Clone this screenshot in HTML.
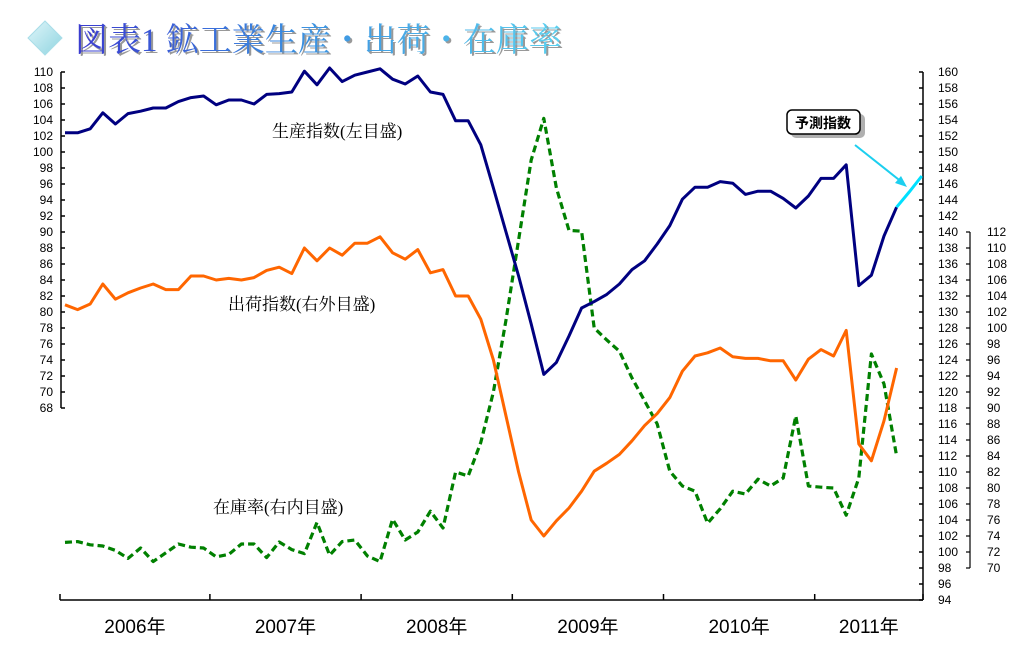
<!DOCTYPE html>
<html><head><meta charset="utf-8"><style>
html,body{margin:0;padding:0;background:#fff;}
svg{display:block;font-family:"Liberation Sans","Noto Sans CJK JP",sans-serif;}
</style></head><body>
<svg id="chart" width="1015" height="667" viewBox="0 0 1015 667" xmlns="http://www.w3.org/2000/svg">
<defs>
<linearGradient id="tg" x1="0" x2="1" y1="0" y2="0">
<stop offset="0" stop-color="#3a3ad0"/><stop offset="0.45" stop-color="#3a8ee0"/><stop offset="1" stop-color="#5ad0f0"/>
</linearGradient>
<linearGradient id="dg" x1="0" y1="0" x2="1" y2="1">
<stop offset="0" stop-color="#e0f6fa"/><stop offset="1" stop-color="#8fd4e0"/>
</linearGradient>
</defs>
<g>
<polygon points="45,21 62,38 45,55 28,38" fill="url(#dg)" stroke="#a8dde8"/>
<text x="77" y="53" font-size="33" fill="#999" font-family="'Liberation Serif','Noto Serif CJK SC',serif">図表1 鉱工業生産・出荷・在庫率</text>
<text x="75" y="51" font-size="33" fill="url(#tg)" font-family="'Liberation Serif','Noto Serif CJK SC',serif">図表1 鉱工業生産・出荷・在庫率</text>
</g>
<g id="axes"></g>
<g id="series"></g>
<g font-family="'Liberation Serif','Noto Serif CJK SC',serif" font-size="17" fill="#000">
<text x="272" y="137">生産指数(左目盛)</text>
<text x="228" y="310">出荷指数(右外目盛)</text>
<text x="213" y="513">在庫率(右内目盛)</text>
</g>
<g>
<rect x="791" y="114" width="74" height="24" rx="5" fill="#b0b0b0"/>
<rect x="787" y="110" width="73" height="24" rx="5" fill="#fff" stroke="#000" stroke-width="1.5"/>
<text x="823" y="128" font-size="14" font-weight="bold" text-anchor="middle" fill="#000">予測指数</text>
<line x1="855" y1="145" x2="903" y2="183" stroke="#1ccfef" stroke-width="2"/>
<polygon points="907,187 895,183 901,176" fill="#1ccfef"/>
</g>
</svg>
<script>
const years = ["2006年","2007年","2008年","2009年","2010年","2011年"];
const yearStartIndex = [0,12,24,36,48,60];
const leftTicks = [110,108,106,104,102,100,98,96,94,92,90,88,86,84,82,80,78,76,74,72,70,68];
const outerTicks = [160,158,156,154,152,150,148,146,144,142,140,138,136,134,132,130,128,126,124,122,120,118,116,114,112,110,108,106,104,102,100,98,96,94];
const innerTicks = [112,110,108,106,104,102,100,98,96,94,92,90,88,86,84,82,80,78,76,74,72,70];
const production = [102.4,102.4,102.9,104.9,103.5,104.8,105.1,105.5,105.5,106.3,106.8,107.0,105.9,106.5,106.5,106.0,107.2,107.3,107.5,110.1,108.4,110.5,108.8,109.6,110.0,110.4,109.1,108.5,109.5,107.5,107.2,103.9,103.9,100.9,95.5,90.0,84.5,78.5,72.2,73.7,77.0,80.5,81.3,82.2,83.5,85.3,86.4,88.5,90.8,94.1,95.6,95.6,96.3,96.1,94.7,95.1,95.1,94.2,93.0,94.5,96.7,96.7,98.4,83.3,84.6,89.5,93.1];
const forecast = [93.1,95.0,97.0];
const shipments = [130.9,130.3,131.0,133.5,131.6,132.4,133.0,133.5,132.8,132.8,134.5,134.5,134.0,134.2,134.0,134.3,135.2,135.6,134.8,138.0,136.4,138.0,137.1,138.6,138.6,139.4,137.4,136.6,137.8,134.9,135.3,132.0,132.0,129.1,124.0,117.0,110.0,104.0,102.0,103.9,105.5,107.6,110.1,111.1,112.2,113.9,115.8,117.3,119.3,122.6,124.5,124.9,125.5,124.4,124.2,124.2,123.9,123.9,121.5,124.1,125.3,124.5,127.7,113.5,111.4,116.4,123.0];
const inventory = [73.2,73.3,72.9,72.75,72.2,71.2,72.5,70.8,71.9,73.0,72.6,72.5,71.4,71.7,73.0,73.0,71.3,73.25,72.3,71.8,75.7,71.6,73.3,73.5,71.5,70.8,76.1,73.5,74.5,77.1,75.0,82.0,81.5,85.7,92.0,101.0,111.0,121.0,126.2,117.5,112.2,112.1,100.0,98.5,97.1,93.75,90.9,88.0,82.1,80.25,79.6,75.6,77.4,79.6,79.25,81.1,80.25,81.25,89.0,80.25,80.1,80.0,76.6,81.25,96.75,93.0,84.0];

const NS="http://www.w3.org/2000/svg";
const xOf = i => 65 + i*12.6;
const yLeft = v => 72 + (110-v)*8;
const yOuter = v => 72 + (160-v)*8;
const yInner = v => 232 + (112-v)*8;
function mk(tag, attrs, parent){const e=document.createElementNS(NS,tag);for(const k in attrs)e.setAttribute(k,attrs[k]);parent.appendChild(e);return e;}
const axes=document.getElementById('axes');
const series=document.getElementById('series');

// left axis
const la=mk('g',{},axes);


mk('line',{x1:61,y1:72,x2:61,y2:408,stroke:'#000','stroke-width':1.5},la);
leftTicks.forEach(v=>{const y=yLeft(v);
 mk('line',{x1:61,y1:y,x2:65,y2:y,stroke:'#000','stroke-width':1.5},la);
 const t=mk('text',{x:53,y:y+4,'font-size':12,'text-anchor':'end',fill:'#000'},la);t.textContent=v;
 
 });
// outer right axis
const oa=mk('g',{},axes);


mk('line',{x1:923,y1:72,x2:923,y2:600,stroke:'#000','stroke-width':1.5},oa);
outerTicks.forEach(v=>{const y=yOuter(v);
 mk('line',{x1:919,y1:y,x2:923,y2:y,stroke:'#000','stroke-width':1.5},oa);
 const t=mk('text',{x:938,y:y+4,'font-size':12,fill:'#000'},oa);t.textContent=v;
 
 });
// inner right axis
const ia=mk('g',{},axes);


mk('line',{x1:970,y1:232,x2:970,y2:568,stroke:'#000','stroke-width':1.2},ia);
innerTicks.forEach(v=>{const y=yInner(v);
 mk('line',{x1:966,y1:y,x2:970,y2:y,stroke:'#000','stroke-width':1.2},ia);
 const t=mk('text',{x:987,y:y+4,'font-size':12,fill:'#000'},ia);t.textContent=v;
 
 });
// x axis
const xa=mk('g',{},axes);


mk('line',{x1:60,y1:600,x2:923,y2:600,stroke:'#000','stroke-width':1.5},xa);
const bounds=[60];
yearStartIndex.slice(1).forEach(i=>bounds.push(xOf(i-0.5)));
bounds.push(923);
bounds.forEach(x=>mk('line',{x1:x,y1:594,x2:x,y2:600,stroke:'#000','stroke-width':1.5},xa));
years.forEach((yr,k)=>{const cx=(bounds[k]+bounds[k+1])/2;
 const t=mk('text',{x:cx,y:633,'font-size':19,'text-anchor':'middle',fill:'#000'},xa);t.textContent=yr;
 
 });

function pts(arr,yf,off){return arr.map((v,i)=>xOf(i+(off||0)).toFixed(1)+','+yf(v).toFixed(1)).join(' ');}
const inv=mk('polyline',{points:pts(inventory,yInner),fill:'none',stroke:'#008000','stroke-width':3.2,'stroke-dasharray':'7,4','stroke-linejoin':'round'},series);


const sh=mk('polyline',{points:pts(shipments,yOuter),fill:'none',stroke:'#ff6600','stroke-width':3,'stroke-linejoin':'round'},series);


const pr=mk('polyline',{points:pts(production,yLeft),fill:'none',stroke:'#000080','stroke-width':3,'stroke-linejoin':'round'},series);


const fc=mk('polyline',{points:pts(forecast,yLeft,production.length-1),fill:'none',stroke:'#00e0ff','stroke-width':3},series);


</script>
</body></html>
